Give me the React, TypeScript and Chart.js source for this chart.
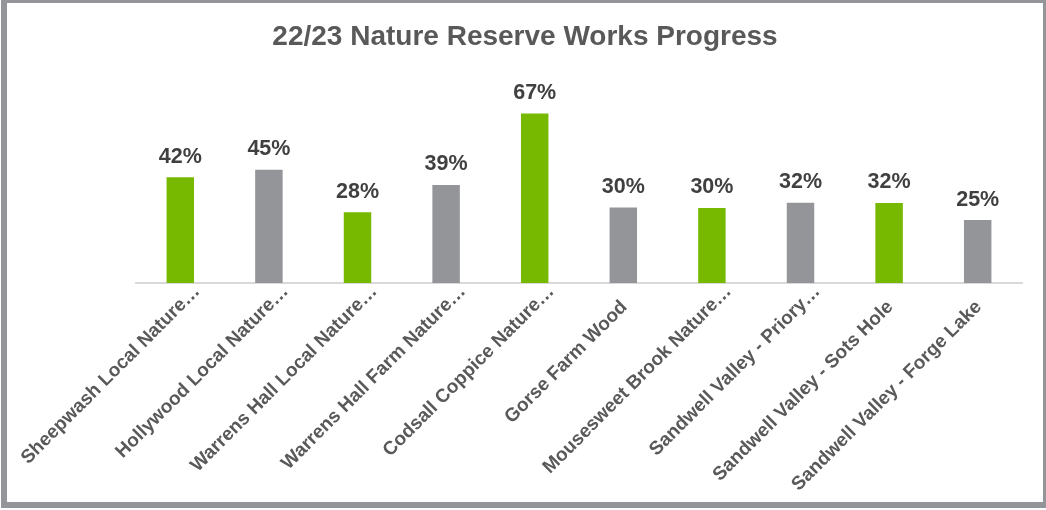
import React, { useEffect, useRef } from "react";
import { Chart, registerables } from "chart.js";

Chart.register(...registerables);

const chartTitle = "22/23 Nature Reserve Works Progress";

const categories = [
  "Sheepwash Local Nature…",
  "Hollywood Local Nature…",
  "Warrens Hall Local Nature…",
  "Warrens Hall Farm Nature…",
  "Codsall Coppice Nature…",
  "Gorse Farm Wood",
  "Mousesweet Brook Nature…",
  "Sandwell Valley - Priory…",
  "Sandwell Valley - Sots Hole",
  "Sandwell Valley - Forge Lake",
];

const progress = [42, 45, 28.1, 39, 67.4, 30, 29.8, 31.9, 31.8, 25];

const barColors = [
  "#76b900", "#939598", "#76b900", "#939598", "#76b900",
  "#939598", "#76b900", "#939598", "#76b900", "#939598",
];

const FONT = '"Liberation Sans", Arial, sans-serif';

const titlePlugin = {
  id: "customTitle",
  afterDraw(chart: any) {
    const ctx = chart.ctx;
    ctx.save();
    ctx.font = `bold 28px ${FONT}`;
    ctx.fillStyle = "#595959";
    ctx.textAlign = "center";
    ctx.textBaseline = "alphabetic";
    ctx.fillText(chartTitle, 525, 45);
    ctx.restore();
  },
};

const xLabelPlugin = {
  id: "xLabels",
  afterDraw(chart: any) {
    const ctx = chart.ctx;
    const xScale = chart.scales.x;
    const size = 19;
    const lh = size * 1.2;
    ctx.save();
    ctx.font = `bold ${size}px ${FONT}`;
    ctx.fillStyle = "#595959";
    ctx.textAlign = "right";
    ctx.textBaseline = "middle";
    categories.forEach((label, i) => {
      const x = xScale.getPixelForTick(i) - 7;
      const y = chart.chartArea.bottom + 13;
      const shift = label.endsWith("…") ? 22 : 0;
      ctx.save();
      ctx.translate(x, y);
      ctx.rotate(-Math.PI / 4);
      ctx.fillText(label, shift, lh / 2);
      ctx.restore();
    });
    ctx.restore();
  },
};

const dataLabelPlugin = {
  id: "dataLabels",
  afterDatasetsDraw(chart: any) {
    const ctx = chart.ctx;
    const meta = chart.getDatasetMeta(0);
    const values = chart.data.datasets[0].data as number[];
    ctx.save();
    ctx.font = `bold 21.5px ${FONT}`;
    ctx.fillStyle = "#404040";
    ctx.textAlign = "center";
    ctx.textBaseline = "alphabetic";
    meta.data.forEach((bar: any, i: number) => {
      ctx.fillText(`${Math.round(values[i])}%`, bar.x, bar.y - 14.6);
    });
    ctx.restore();
  },
};

export default function App() {
  const canvasRef = useRef<HTMLCanvasElement | null>(null);

  useEffect(() => {
    if (!canvasRef.current) return;
    const chart = new Chart(canvasRef.current, {
      type: "bar",
      data: {
        labels: categories,
        datasets: [
          {
            data: progress,
            backgroundColor: barColors,
            borderWidth: 0,
            barPercentage: 0.31,
            categoryPercentage: 1,
          },
        ],
      },
      options: {
        responsive: false,
        animation: false,
        devicePixelRatio: 1,
        layout: { padding: { left: 136, right: 24, top: 83, bottom: 0 } },
        plugins: {
          legend: { display: false },
          tooltip: { enabled: false },
          title: { display: false },
        },
        scales: {
          x: {
            grid: { display: false, drawTicks: false },
            border: { display: true, color: "#d9d9d9", width: 2 },
            ticks: { display: false, autoSkip: false },
            afterFit: (scale: any) => {
              scale.height = 227;
              scale.paddingLeft = 0;
              scale.paddingRight = 0;
            },
          },
          y: {
            display: false,
            min: 0,
            max: 79.5,
          },
        },
      },
      plugins: [dataLabelPlugin, xLabelPlugin, titlePlugin],
    });
    return () => chart.destroy();
  }, []);

  return (
    <div
      style={{
        position: "fixed",
        left: 0,
        top: 0,
        width: 1046,
        height: 510,
        background: "#ffffff",
        overflow: "hidden",
      }}
    >
      <canvas
        ref={canvasRef}
        width={1046}
        height={510}
        style={{ position: "absolute", left: 0, top: 0, width: 1046, height: 510 }}
      />
      <div
        style={{
          position: "absolute",
          left: 1,
          top: 0,
          width: 1045,
          height: 508,
          boxSizing: "border-box",
          borderStyle: "solid",
          borderColor: "#939598",
          borderTopWidth: 3,
          borderLeftWidth: 6,
          borderRightWidth: 3,
          borderBottomWidth: 6,
          pointerEvents: "none",
        }}
      />
    </div>
  );
}
